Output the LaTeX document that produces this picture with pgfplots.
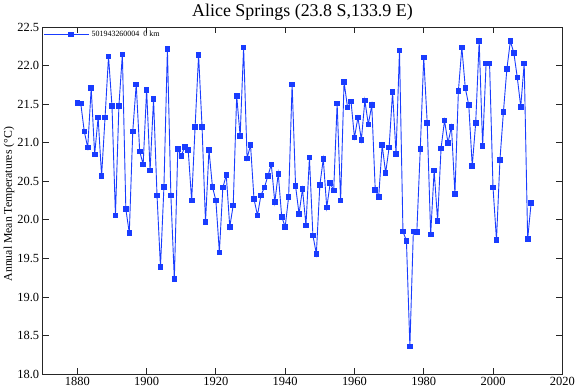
\documentclass[border=0pt]{standalone}
\usepackage{fontspec}
\setmainfont{Liberation Serif}
\usepackage{pgfplots}
\pgfplotsset{compat=1.18}
\definecolor{ln}{RGB}{25,60,255}
\begin{document}
\begin{tikzpicture}
\useasboundingbox (-42.7bp,-18bp) rectangle (537.3bp,374bp);
\begin{axis}[
 at={(0,0)}, anchor=south west,
 scale only axis, width=519.6bp, height=346.7bp,
 xmin=1870, xmax=2020, ymin=18, ymax=22.5,
 xtick={1880,1900,...,2020}, ytick={18,18.5,...,22.5},
 tick align=inside, major tick length=6bp,
 /pgf/number format/1000 sep={},
 /pgf/number format/assume math mode=true,
 yticklabel style={/pgf/number format/.cd,fixed,fixed zerofill,precision=1},
 tick label style={font=\fontsize{12.5}{14}\selectfont},
 axis line style={black!85, line width=0.9bp},
 tick style={black!85, line width=0.9bp},
 title={Alice Springs (23.8 S,133.9 E)},
 every axis title/.style={font=\fontsize{18}{20}\selectfont, at={(axis description cs:0.5,1)}, anchor=base, yshift=10.3bp, inner sep=0pt},
 ylabel={Annual Mean Temperatures (°C)},
 every axis y label/.style={font=\fontsize{11.8}{13}\selectfont, at={(axis description cs:-0.0649,0.49)}, rotate=90, anchor=center, inner sep=0pt},
 legend style={at={(axis description cs:0,1)}, anchor=north west, draw=none, fill=none, font=\fontsize{8}{9}\selectfont, inner sep=1bp, outer sep=0pt, yshift=-0.5bp},
 legend image code/.code={\draw[#1] (0bp,0bp) -- (45bp,0bp); \draw[#1,only marks] plot coordinates {(27bp,0bp)};},
]
\addplot[color=ln, line width=0.9bp, mark=square*, mark size=2.3bp, mark options={fill=ln}] table[x=year,y=t] {
year t
1880 21.52
1881 21.51
1882 21.15
1883 20.94
1884 21.71
1885 20.85
1886 21.33
1887 20.57
1888 21.33
1889 22.12
1890 21.48
1891 20.06
1892 21.48
1893 22.15
1894 20.14
1895 19.83
1896 21.15
1897 21.76
1898 20.89
1899 20.72
1900 21.69
1901 20.64
1902 21.57
1903 20.32
1904 19.39
1905 20.43
1906 22.22
1907 20.32
1908 19.23
1909 20.92
1910 20.83
1911 20.95
1912 20.91
1913 20.25
1914 21.21
1915 22.14
1916 21.21
1917 19.97
1918 20.91
1919 20.43
1920 20.25
1921 19.58
1922 20.42
1923 20.58
1924 19.91
1925 20.19
1926 21.61
1927 21.09
1928 22.24
1929 20.80
1930 20.97
1931 20.27
1932 20.06
1933 20.32
1934 20.42
1935 20.57
1936 20.72
1937 20.23
1938 20.60
1939 20.04
1940 19.91
1941 20.30
1942 21.76
1943 20.44
1944 20.08
1945 20.40
1946 19.93
1947 20.81
1948 19.80
1949 19.56
1950 20.45
1951 20.79
1952 20.16
1953 20.48
1954 20.38
1955 21.51
1956 20.25
1957 21.79
1958 21.46
1959 21.54
1960 21.07
1961 21.33
1962 21.04
1963 21.55
1964 21.24
1965 21.49
1966 20.39
1967 20.30
1968 20.97
1969 20.61
1970 20.94
1971 21.66
1972 20.86
1973 22.20
1974 19.85
1975 19.73
1976 18.36
1977 19.85
1978 19.84
1979 20.92
1980 22.11
1981 21.26
1982 19.81
1983 20.64
1984 19.99
1985 20.93
1986 21.29
1987 21.00
1988 21.21
1989 20.34
1990 21.67
1991 22.24
1992 21.71
1993 21.49
1994 20.70
1995 21.26
1996 22.32
1997 20.96
1998 22.03
1999 22.03
2000 20.42
2001 19.74
2002 20.78
2003 21.40
2004 21.96
2005 22.32
2006 22.17
2007 21.85
2008 21.47
2009 22.03
2010 19.75
2011 20.22
};
\addlegendentry{501943260004\ \ 0 km}
\end{axis}
\end{tikzpicture}
\end{document}
